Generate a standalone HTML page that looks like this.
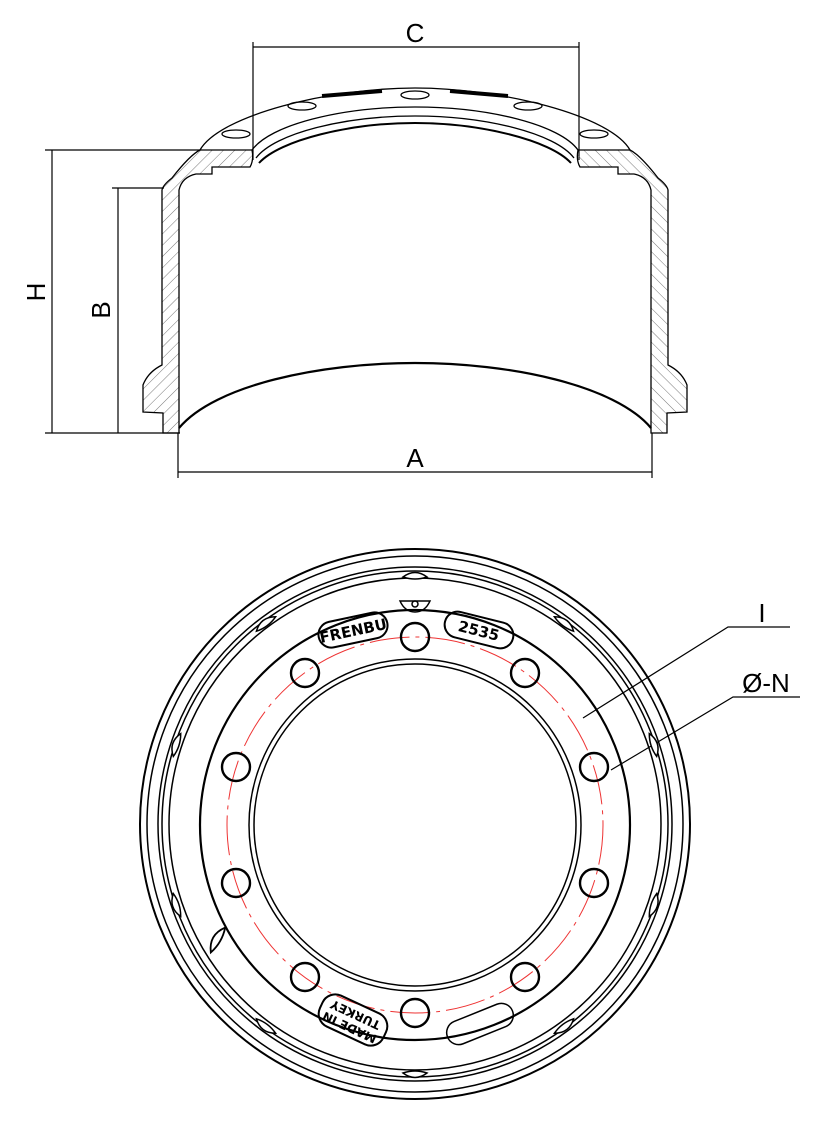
<!DOCTYPE html>
<html><head><style>body{margin:0;background:#fff}svg{display:block}</style></head>
<body>
<svg width="836" height="1133" viewBox="0 0 836 1133" xmlns="http://www.w3.org/2000/svg" font-family="Liberation Sans, sans-serif">
<defs>
<pattern id="h" patternUnits="userSpaceOnUse" width="8" height="8" patternTransform="rotate(45)">
<line x1="0" y1="0" x2="0" y2="8" stroke="#555" stroke-width="0.8"/>
</pattern>
<path id="notch" d="M-12,0 Q0,-9 12,0 Q0,4 -12,0 Z" fill="#fff" stroke="#000" stroke-width="1.5"/>
</defs>
<g fill="none" stroke="#000" stroke-width="1.2">
<line x1="253" y1="47" x2="579" y2="47"/>
<line x1="253" y1="42" x2="253" y2="160"/>
<line x1="579" y1="42" x2="579" y2="160"/>
<line x1="52" y1="150" x2="52" y2="433"/>
<line x1="45" y1="150" x2="200" y2="150"/>
<line x1="45" y1="433" x2="180" y2="433"/>
<line x1="118" y1="188" x2="118" y2="433"/>
<line x1="112" y1="188" x2="164" y2="188"/>
<line x1="178" y1="472" x2="652" y2="472"/>
<line x1="178" y1="433" x2="178" y2="478"/>
<line x1="652" y1="433" x2="652" y2="478"/>
</g>
<text x="415" y="42" font-size="26" text-anchor="middle">C</text>
<text x="415" y="467" font-size="26" text-anchor="middle">A</text>
<text transform="translate(45,292) rotate(-90)" font-size="26" text-anchor="middle">H</text>
<text transform="translate(110,310) rotate(-90)" font-size="26" text-anchor="middle">B</text>

<g stroke="#000" stroke-width="1.3">
<path id="sec" d="M179,433 L179,190 Q182,177 196,174 L212,174 L212,167 L250,167 Q254,160 252,150 L200,150 Q190,155 172,178 Q163,185 162,190 L162,365 Q148,372 143,385 L143,412 L163,413 L163,433 Z" fill="url(#h)"/>
<use href="#sec" transform="translate(830,0) scale(-1,1)"/>
</g>
<g fill="none" stroke="#000" stroke-width="1.3">
<path d="M200,150 C220,115 330,88 415,88 C500,88 610,115 630,150"/>
<path d="M252,150 C270,125 340,107 415,107 C490,107 560,125 578,150"/>
<path d="M256,158 C275,133 345,116 415,116 C485,116 555,133 574,158"/>
<path d="M259,163 C280,140 350,123 415,123 C480,123 550,140 571,163" stroke-width="2"/>
<path d="M179,428 C215,385 320,363 415,363 C510,363 615,385 651,428" stroke-width="2.2"/>
<ellipse cx="236" cy="134" rx="14" ry="4"/>
<ellipse cx="302" cy="106" rx="14" ry="4"/>
<ellipse cx="415" cy="95" rx="14" ry="4"/>
<ellipse cx="528" cy="106" rx="14" ry="4"/>
<ellipse cx="594" cy="134" rx="14" ry="4"/>
<path d="M322,96 L382,91" stroke-width="4"/>
<path d="M450,91 L508,96" stroke-width="4"/>
</g>

<g fill="none" stroke="#000" stroke-width="1.5">
<circle cx="415" cy="824" r="275" stroke-width="2"/>
<circle cx="415" cy="824" r="268"/>
<circle cx="415" cy="824" r="257"/>
<circle cx="415" cy="824" r="253"/>
<circle cx="415" cy="824" r="246"/>
<circle cx="415" cy="825" r="215" stroke-width="2.2"/>
<circle cx="415" cy="825" r="166"/>
<circle cx="415" cy="825" r="161"/>
<circle cx="415" cy="825" r="188" stroke="#e33" stroke-width="1" stroke-dasharray="40,6,4,6"/>
<g stroke-width="2.4">
<circle cx="415" cy="637" r="14"/>
<circle cx="525" cy="673" r="14"/>
<circle cx="594" cy="767" r="14"/>
<circle cx="594" cy="883" r="14"/>
<circle cx="525" cy="977" r="14"/>
<circle cx="415" cy="1013" r="14"/>
<circle cx="305" cy="977" r="14"/>
<circle cx="236" cy="883" r="14"/>
<circle cx="236" cy="767" r="14"/>
<circle cx="305" cy="673" r="14"/>
</g>
<rect x="318" y="617" width="70" height="26" rx="13" transform="rotate(-12 353 630)" stroke-width="2"/>
<rect x="444" y="617" width="70" height="26" rx="13" transform="rotate(14 479 630)" stroke-width="2"/>
<rect x="318" y="1003" width="70" height="34" rx="14" transform="rotate(25 353 1020)" stroke-width="2"/>
<rect x="445" y="1012" width="70" height="24" rx="12" transform="rotate(-22 480 1024)"/>
<path d="M400,601 L430,601 Q425,612 415,612 Q405,612 400,601 Z"/>
<circle cx="415" cy="604" r="3"/>
<polyline points="790,627 728,627 583,718" stroke-width="1.2"/>
<polyline points="800,697 733,697 611,770" stroke-width="1.2"/>
</g>
<g>
<use href="#notch" transform="translate(415,577) rotate(0)"/>
<use href="#notch" transform="translate(266,624) rotate(-37)"/>
<use href="#notch" transform="translate(564,624) rotate(37)"/>
<use href="#notch" transform="translate(177,745) rotate(-72)"/>
<use href="#notch" transform="translate(653,745) rotate(72)"/>
<use href="#notch" transform="translate(177,905) rotate(-108)"/>
<use href="#notch" transform="translate(653,905) rotate(108)"/>
<use href="#notch" transform="translate(218,940) rotate(-60) scale(1.2)"/>
<use href="#notch" transform="translate(266,1026) rotate(-143)"/>
<use href="#notch" transform="translate(564,1026) rotate(143)"/>
<use href="#notch" transform="translate(415,1073) rotate(180)"/>
</g>
<g font-weight="bold" font-size="15" fill="#000" font-family="DejaVu Sans, sans-serif">
<text x="353" y="636" text-anchor="middle" transform="rotate(-12 353 630)">FRENBU</text>
<text x="479" y="636" text-anchor="middle" transform="rotate(14 479 630)">2535</text>
<text x="353" y="1016" font-size="12" text-anchor="middle" transform="rotate(205 353 1020)">MADE IN</text>
<text x="353" y="1030" font-size="12" text-anchor="middle" transform="rotate(205 353 1020)">TURKEY</text>
</g>
<text x="762" y="622" font-size="26" text-anchor="middle">I</text>
<text x="766" y="692" font-size="26" text-anchor="middle">Ø-N</text>
</svg>
</body></html>
